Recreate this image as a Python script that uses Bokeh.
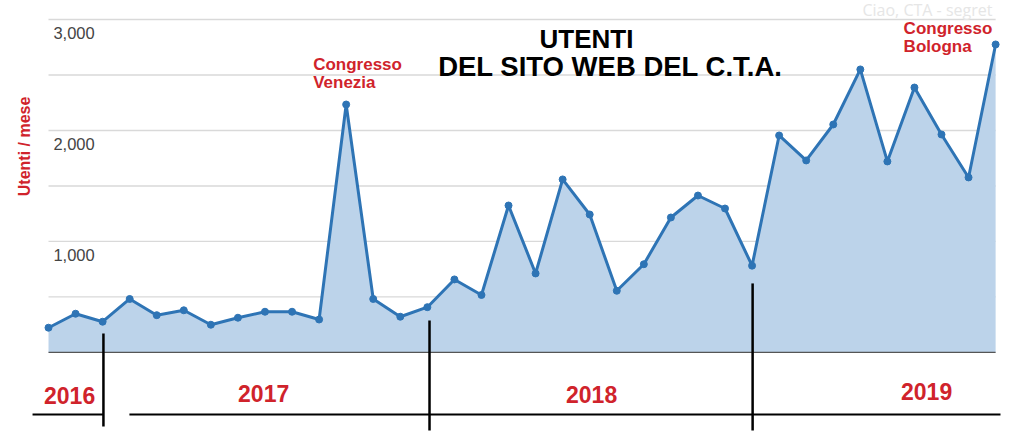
from bokeh.plotting import figure
from bokeh.models import Range1d, ColumnDataSource
from bokeh.core.properties import value
from bokeh.embed import file_html
from bokeh.resources import INLINE

# ---- data (monthly users, Oct 2016 .. Sep 2019) ----
month_index = list(range(36))
users = [223, 349, 277, 482, 336, 380, 250, 313, 367, 367, 297, 2234,
         482, 322, 408, 658, 518, 1324, 712, 1559, 1243, 556, 795, 1216,
         1414, 1297, 782, 1955, 1730, 2054, 2550, 1721, 2387, 1964, 1577, 2775]
grid_values = [500, 1000, 1500, 2000, 2500, 3000]
tick_values = [1000, 2000, 3000]
tick_labels = ["1,000", "2,000", "3,000"]
year_labels = ["2016", "2017", "2018", "2019"]
year_centers = [0.78, 7.95, 20.07, 32.45]
year_mid = [-387, -369, -383, -356]
divider_months = [2.03, 14.08, 26.02]
divider_tops = [171, 288, 622]

RED = "#d0232b"
LINE = "#2e74b5"
FILL = "#bcd3ea"
FONT = "Liberation Sans"

p = figure(width=1008, height=431, output_backend="svg", toolbar_location=None,
           x_range=Range1d(-1.774, 35.476), y_range=Range1d(-712, 3171),
           min_border=0, outline_line_color=None, background_fill_color="white",
           border_fill_color="white")
p.xaxis.visible = False
p.yaxis.visible = False
p.xgrid.visible = False
p.ygrid.visible = False

# gridlines
n = len(grid_values)
p.segment(x0=[0] * n, x1=[35.0] * n, y0=grid_values, y1=grid_values,
          line_color="#d9d9d9", line_width=1.3)

# area + line + markers
src = ColumnDataSource(dict(x=month_index, y=users, z=[0] * len(users)))
p.varea(x="x", y1="z", y2="y", source=src, fill_color=FILL, fill_alpha=1.0)
p.segment(x0=[0], x1=[35.0], y0=[0], y1=[0], line_color="#555555", line_width=1.3)
p.line(x="x", y="y", source=src, line_color=LINE, line_width=3)
p.scatter(x="x", y="y", source=src, size=7, fill_color=LINE, line_color=LINE)

# y tick labels (inside the chart)
p.text(x=[0.18] * 3, y=[v - 126 for v in tick_values], text=tick_labels,
       text_font=value(FONT), text_font_size="16.5px", text_color="#444444",
       text_align="left", text_baseline="middle")

# y axis title
p.text(x=[-0.887], y=[1856], text=["Utenti / mese"], angle=1.5708,
       text_font=value(FONT), text_font_size="16px", text_font_style="bold",
       text_color=RED, text_align="center", text_baseline="middle")

# title
p.text(x=[19.88], y=[2820], text=["UTENTI"], text_font=value(FONT),
       text_font_size="26px", text_font_style="bold", text_color="black",
       text_align="center", text_baseline="middle")
p.text(x=[20.77], y=[2577], text=["DEL SITO WEB DEL C.T.A."], text_font=value(FONT),
       text_font_size="27.5px", text_font_style="bold", text_color="black",
       text_align="center", text_baseline="middle")

# annotations
p.text(x=[9.78, 9.78], y=[2595, 2428], text=["Congresso", "Venezia"],
       text_font=value(FONT), text_font_size="17px", text_font_style="bold",
       text_color=RED, text_align="left", text_baseline="middle")
p.text(x=[31.6, 31.6], y=[2923, 2757], text=["Congresso", "Bologna"],
       text_font=value(FONT), text_font_size="17px", text_font_style="bold",
       text_color=RED, text_align="left", text_baseline="middle")

# faint header text (screenshot remnant)
p.text(x=[30.08], y=[3081], text=["Ciao, CTA - segret"], text_font=value("Open Sans"),
       text_font_size="16px", text_color="#e6e6e6", text_align="left",
       text_baseline="middle")

# year timeline
p.segment(x0=[-0.59, 2.99], x1=[2.03, 35.18], y0=[-559, -559], y1=[-559, -559],
          line_color="black", line_width=2.2)
p.segment(x0=divider_months, x1=divider_months, y0=divider_tops,
          y1=[-667, -703, -703], line_color="black", line_width=2.5)
p.text(x=year_centers, y=year_mid, text=year_labels, text_font=value(FONT),
       text_font_size="23px", text_font_style="bold", text_color=RED,
       text_align="center", text_baseline="middle")

open("out.html", "w").write(file_html(p, INLINE))
